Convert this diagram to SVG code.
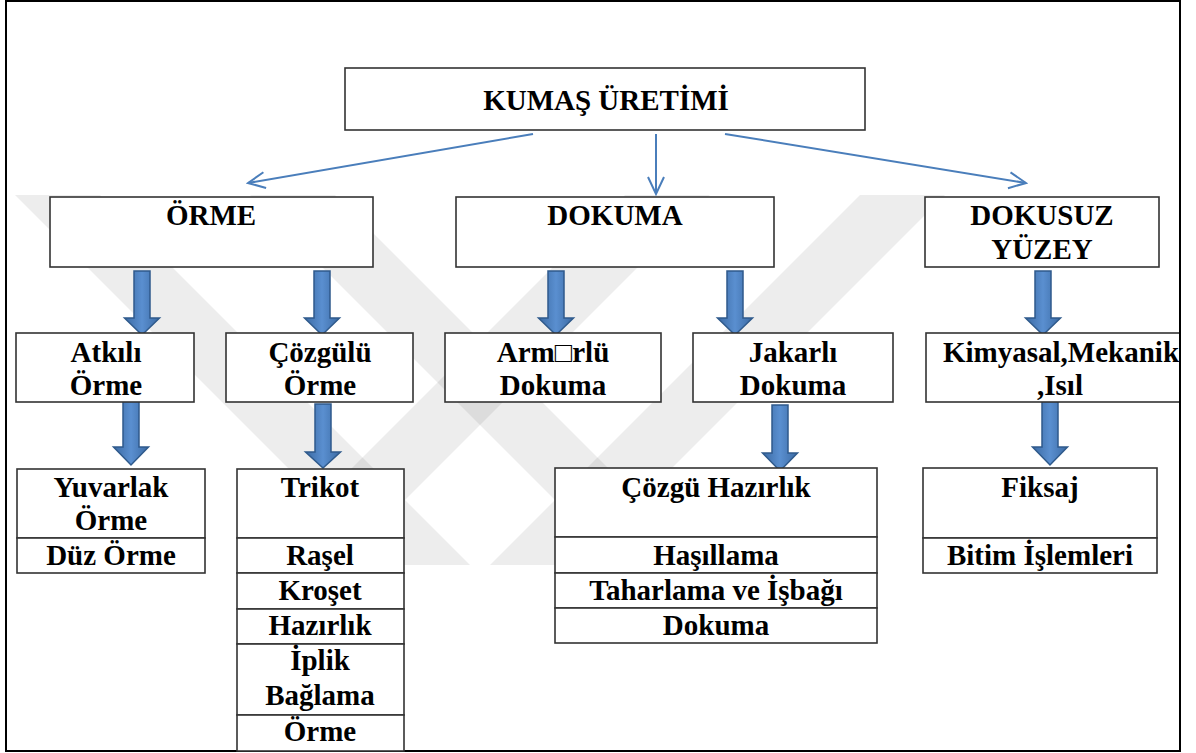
<svg xmlns="http://www.w3.org/2000/svg" width="1196" height="753" viewBox="0 0 1196 753">
<style>
.box{fill:#fff;stroke:#333;stroke-width:1.6}
text{font-family:'Liberation Serif','Times New Roman','DejaVu Serif',serif;font-weight:bold;font-size:29px;fill:#000;text-anchor:middle}
.ts{text-anchor:start}
.thin{fill:none;stroke:#4a7ebb;stroke-width:2}
.blk{fill:url(#bg);stroke:#2f5a8c;stroke-width:1.5;stroke-linejoin:miter}
.wm{fill:#000;fill-opacity:0.07}
</style>
<defs>
<marker id="v" markerWidth="20" markerHeight="20" refX="18" refY="10" orient="auto" markerUnits="userSpaceOnUse">
<path d="M1,2 L18,10 L1,18" fill="none" stroke="#4a7ebb" stroke-width="2"/>
</marker>
<linearGradient id="bg" x1="0" y1="0" x2="1" y2="0">
<stop offset="0" stop-color="#3b6aa3"/>
<stop offset="0.5" stop-color="#5a8fd0"/>
<stop offset="1" stop-color="#3b6aa3"/>
</linearGradient>
<clipPath id="fc"><rect x="6" y="1" width="1173" height="750"/></clipPath>
</defs>
<rect x="0" y="0" width="1196" height="753" fill="#fff"/>
<g id="watermark">
<polygon class="wm" points="15,195 100,195 470,565 385,565"/>
<polygon class="wm" points="250,195 335,195 705,565 620,565"/>
<polygon class="wm" points="860,195 945,195 575,565 490,565"/>
<polygon class="wm" points="625,195 710,195 340,565 255,565"/>
</g>
<rect id="frame" x="6" y="1" width="1174" height="750" fill="none" stroke="#000" stroke-width="2"/>
<g id="connectors">
<line class="thin" x1="533" y1="134" x2="248" y2="183" marker-end="url(#v)"/>
<line class="thin" x1="656" y1="134" x2="656" y2="194" marker-end="url(#v)"/>
<line class="thin" x1="725" y1="134" x2="1026" y2="183" marker-end="url(#v)"/>
<polygon class="blk" points="134,271 150,271 150,318 159.5,318 142,335 124.5,318 134,318"/>
<polygon class="blk" points="314,271 330,271 330,318 339.5,318 322,335 304.5,318 314,318"/>
<polygon class="blk" points="548,271 564,271 564,318 573.5,318 556,335 538.5,318 548,318"/>
<polygon class="blk" points="727,271 743,271 743,318 752.5,318 735,335 717.5,318 727,318"/>
<polygon class="blk" points="1035,271 1051,271 1051,318 1060.5,318 1043,335 1025.5,318 1035,318"/>
<polygon class="blk" points="123,400 139,400 139,447 148.5,447 131,465 113.5,447 123,447"/>
<polygon class="blk" points="315,404 331,404 331,452 340.5,452 323,468 305.5,452 315,452"/>
<polygon class="blk" points="772,405 788,405 788,453 797.5,453 780,471 762.5,453 772,453"/>
<polygon class="blk" points="1042,398 1058,398 1058,447 1067.5,447 1050,465 1032.5,447 1042,447"/>
</g>
<g id="kumas">
<rect class="box" x="345" y="68" width="520" height="62"/>
<text x="606" y="110">KUMAŞ ÜRETİMİ</text>
</g>
<g id="orme">
<rect class="box" x="50" y="197" width="323" height="70"/>
<text x="211" y="225">ÖRME</text>
</g>
<g id="dokuma">
<rect class="box" x="456" y="197" width="318" height="70"/>
<text x="615" y="225">DOKUMA</text>
</g>
<g id="dokusuz">
<rect class="box" x="925" y="197" width="234" height="70"/>
<text x="1042" y="225">DOKUSUZ</text>
<text x="1042" y="259">YÜZEY</text>
</g>
<g id="atkili">
<rect class="box" x="16" y="333" width="178" height="69"/>
<text x="106" y="362">Atkılı</text>
<text x="106" y="395">Örme</text>
</g>
<g id="cozgulu">
<rect class="box" x="226" y="333" width="187" height="69"/>
<text x="320" y="362">Çözgülü</text>
<text x="320" y="395">Örme</text>
</g>
<g id="armurlu">
<rect class="box" x="445" y="333" width="216" height="69"/>
<text x="553" y="362">Arm□rlü</text>
<text x="553" y="395">Dokuma</text>
</g>
<g id="jakarli">
<rect class="box" x="693" y="333" width="200" height="69"/>
<text x="793" y="362">Jakarlı</text>
<text x="793" y="395">Dokuma</text>
</g>
<g id="kimyasal" clip-path="url(#fc)">
<rect class="box" x="926" y="333" width="260" height="69"/>
<text class="ts" x="943" y="362">Kimyasal,Mekanik</text>
<text x="1060" y="395">,Isıl</text>
</g>
<g id="yuvarlak">
<rect class="box" x="17" y="469" width="188" height="69"/>
<rect class="box" x="17" y="538" width="188" height="35"/>
<text x="111" y="497">Yuvarlak</text>
<text x="111" y="530">Örme</text>
<text x="111" y="565">Düz Örme</text>
</g>
<g id="trikot">
<rect class="box" x="237" y="469" width="167" height="69"/>
<rect class="box" x="237" y="538" width="167" height="35"/>
<rect class="box" x="237" y="573" width="167" height="36"/>
<rect class="box" x="237" y="609" width="167" height="35"/>
<rect class="box" x="237" y="644" width="167" height="71"/>
<rect class="box" x="237" y="715" width="167" height="36"/>
<text x="320" y="497">Trikot</text>
<text x="320" y="565">Raşel</text>
<text x="320" y="600">Kroşet</text>
<text x="320" y="635">Hazırlık</text>
<text x="320" y="670">İplik</text>
<text x="320" y="705">Bağlama</text>
<text x="320" y="741">Örme</text>
</g>
<g id="cozgu">
<rect class="box" x="555" y="468" width="322" height="69"/>
<rect class="box" x="555" y="537" width="322" height="36"/>
<rect class="box" x="555" y="573" width="322" height="35"/>
<rect class="box" x="555" y="608" width="322" height="35"/>
<text x="716" y="497">Çözgü Hazırlık</text>
<text x="716" y="565">Haşıllama</text>
<text x="716" y="600">Taharlama ve İşbağı</text>
<text x="716" y="635">Dokuma</text>
</g>
<g id="fiksaj">
<rect class="box" x="923" y="468" width="234" height="70"/>
<rect class="box" x="923" y="538" width="234" height="35"/>
<text x="1040" y="497">Fiksaj</text>
<text x="1040" y="565">Bitim İşlemleri</text>
</g>
</svg>
